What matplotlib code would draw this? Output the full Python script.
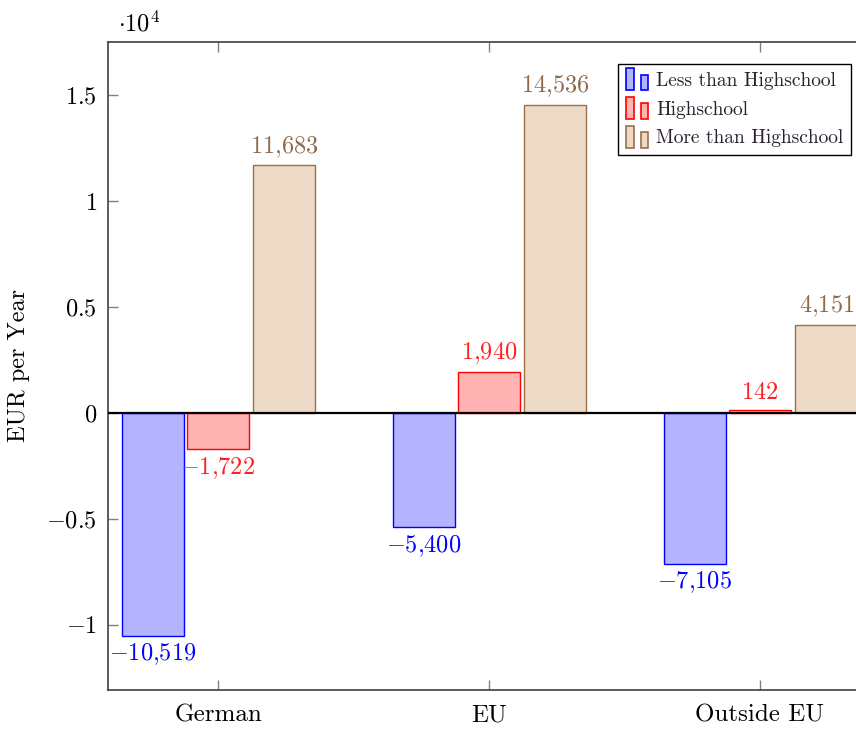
import matplotlib
matplotlib.use("Agg")
import matplotlib.pyplot as plt
import numpy as np
from matplotlib.patches import Rectangle
from matplotlib.legend_handler import HandlerBase
from matplotlib.ticker import FuncFormatter, FixedLocator

plt.rcParams['font.family'] = ['cmr10', 'DejaVu Serif']
plt.rcParams['mathtext.fontset'] = 'cm'
plt.rcParams['axes.formatter.use_mathtext'] = True

categories = ["German", "EU", "Outside EU"]
series_names = ["Less than Highschool", "Highschool", "More than Highschool"]
less_than_hs = [-10519, -5400, -7105]
highschool = [-1722, 1940, 142]
more_than_hs = [11683, 14536, 4151]
y_ticks = [-10000, -5000, 0, 5000, 10000, 15000]

series = [less_than_hs, highschool, more_than_hs]
fills = ["#b3b3ff", "#ffb3b3", "#ecd9c6"]
edges = ["#0000ff", "#ff0000", "#9c7048"]
text_colors = ["#0000ff", "#ff2020", "#8c6a4a"]

W, H = 856, 731
fig = plt.figure(figsize=(W / 100, H / 100), dpi=100)
ax_left, ax_right, ax_top, ax_bottom = 108, 870, 42, 690
ax = fig.add_axes([ax_left / W, 1 - ax_bottom / H, (ax_right - ax_left) / W, (ax_bottom - ax_top) / H])

x = np.arange(len(categories))
bar_w = 0.229
offsets = [-0.24, 0.0, 0.245]

def fmt_num(v):
    s = f"{abs(v):,}".replace(",", "{,}")
    return ("$-" if v < 0 else "$") + s + "$"

for vals, off, fc, ec, tc in zip(series, offsets, fills, edges, text_colors):
    bars = ax.bar(x + off, vals, bar_w, color=fc, edgecolor=ec, linewidth=1.0, zorder=2)
    for b, v in zip(bars, vals):
        cx = b.get_x() + b.get_width() / 2
        if v >= 0:
            ax.annotate(fmt_num(v), (cx, v), xytext=(0, 4), textcoords="offset points",
                        ha="center", va="bottom", color=tc, fontsize=17.5, zorder=3)
        else:
            ax.annotate(fmt_num(v), (cx, v), xytext=(0, -4), textcoords="offset points",
                        ha="center", va="top", color=tc, fontsize=17.5, zorder=3)

ax.axhline(0, color="black", linewidth=1.6, zorder=3)

ax.set_xlim(-0.406, 2.406)
ax.set_ylim(-13070, 17500)

ax.set_xticks(x)
ax.set_xticklabels(categories, fontsize=18)
ax.yaxis.set_major_locator(FixedLocator(y_ticks))

def yfmt(v, pos):
    t = v / 10000
    if abs(t - round(t)) < 1e-9:
        s = f"{int(round(abs(t)))}"
    else:
        s = f"{abs(t):g}"
    return ("$-" if t < 0 else "$") + s + "$"

ax.yaxis.set_major_formatter(FuncFormatter(yfmt))
ax.tick_params(axis="y", labelsize=17.5)
ax.tick_params(direction="in", length=7, color="#808080", width=1.0, top=True, right=False, pad=8)
ax.tick_params(axis="x", pad=10)

for sp in ["left", "bottom", "top"]:
    ax.spines[sp].set_color("#404040")
    ax.spines[sp].set_linewidth(1.2)
ax.spines["right"].set_visible(False)

ax.set_ylabel("EUR per Year", fontsize=17.5, labelpad=12)

fig.text(118 / W, 1 - 24 / H, r"$\cdot 10^4$", fontsize=17.5, ha="left", va="center")


class TwoBars(HandlerBase):
    def create_artists(self, legend, orig_handle, xdescent, ydescent, width, height, fontsize, trans):
        fc, ec = orig_handle.get_facecolor(), orig_handle.get_edgecolor()
        r1 = Rectangle((-xdescent, -ydescent - 3), width * 0.37, height * 1.55,
                       facecolor=fc, edgecolor=ec, linewidth=1.2, transform=trans)
        r2 = Rectangle((-xdescent + width * 0.65, -ydescent - 3), width * 0.3, height * 1.1,
                       facecolor=fc, edgecolor=ec, linewidth=1.2, transform=trans)
        return [r1, r2]

handles = [Rectangle((0, 0), 1, 1, facecolor=fc, edgecolor=ec) for fc, ec in zip(fills, edges)]
leg = ax.legend(handles, series_names, loc="upper right", bbox_to_anchor=(0.975, 0.966),
                borderaxespad=0, fontsize=14, fancybox=False, edgecolor="black",
                handler_map={Rectangle: TwoBars()}, handlelength=1.2, handleheight=0.75,
                handletextpad=0.35, labelspacing=0.55, borderpad=0.4, framealpha=1)
leg.get_frame().set_linewidth(1.0)
for t in leg.get_texts():
    t.set_color("#2a2030")

fig.savefig("out.png", dpi=100)
